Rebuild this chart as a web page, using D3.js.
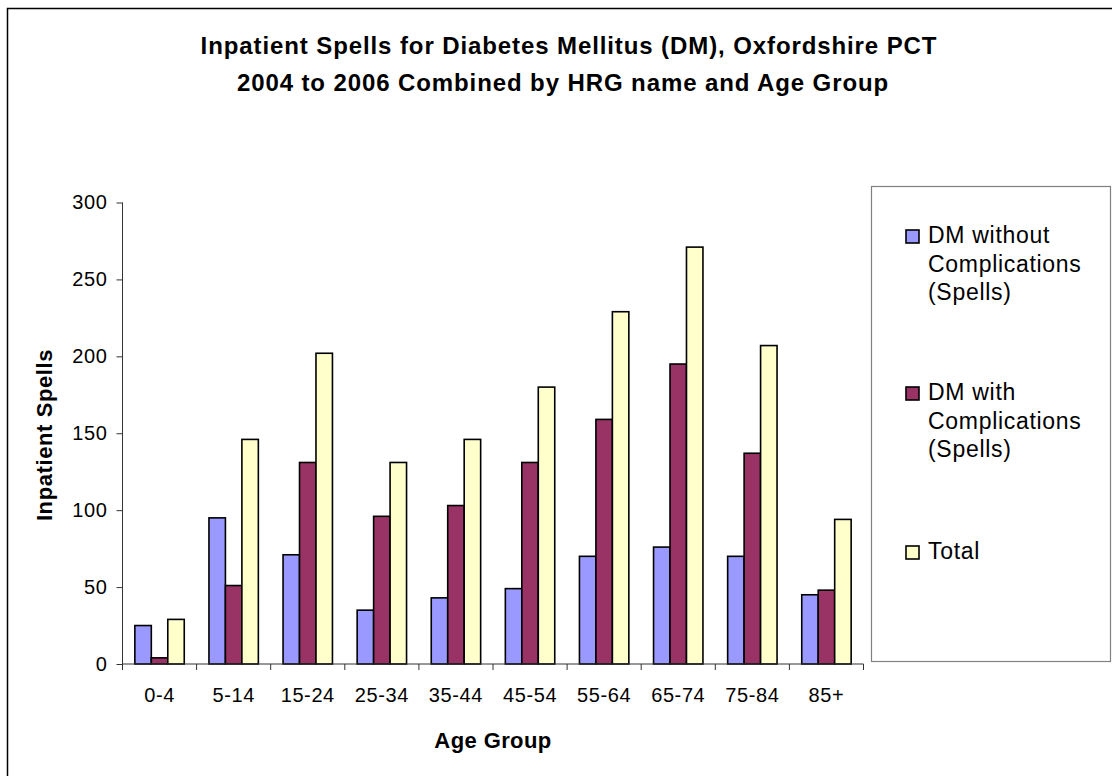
<!DOCTYPE html>
<html lang="en">
<head>
<meta charset="utf-8">
<title>Inpatient Spells for Diabetes Mellitus</title>
<script src="https://d3js.org/d3.v7.min.js"></script>
<style>
  body { margin: 0; background: #fff; }
  svg { display: block; font-family: "Liberation Sans", Arial, sans-serif; }
</style>
</head>
<body>
<script>
  // data
  var categories = ["0-4", "5-14", "15-24", "25-34", "35-44", "45-54", "55-64", "65-74", "75-84", "85+"];
  var seriesNames = ["DM without Complications (Spells)", "DM with Complications (Spells)", "Total"];
  var withoutComp = [25, 95, 71, 35, 43, 49, 70, 76, 70, 45];
  var withComp = [4, 51, 131, 96, 103, 131, 159, 195, 137, 48];
  var total = [29, 146, 202, 131, 146, 180, 229, 271, 207, 94];
  var yTicks = [0, 50, 100, 150, 200, 250, 300];

  var colors = ["#9999ff", "#993366", "#ffffcc"];
  var values = [withoutComp, withComp, total];

  var width = 1112, height = 776;
  var plot = { left: 122.5, right: 863.5, top: 202.5, bottom: 664 };

  var svg = d3.select("body").append("svg")
    .attr("width", width)
    .attr("height", height);

  // outer chart border (runs off right/bottom)
  svg.append("rect")
    .attr("x", 7.5).attr("y", 8.5)
    .attr("width", width).attr("height", height)
    .attr("fill", "none")
    .attr("stroke", "#000")
    .attr("stroke-width", 1.5);

  // title
  var title = svg.append("text")
    .attr("text-anchor", "middle")
    .attr("font-weight", "bold")
    .attr("font-size", 24)
    .attr("letter-spacing", 0.9)
    .attr("fill", "#000");
  title.append("tspan").attr("x", 569).attr("y", 54).text("Inpatient Spells for Diabetes Mellitus (DM), Oxfordshire PCT");
  title.append("tspan").attr("x", 563).attr("y", 91).text("2004 to 2006 Combined by HRG name and Age Group");

  var x0 = d3.scaleBand()
    .domain(categories)
    .range([plot.left, plot.right])
    .padding(0);

  var bw = x0.bandwidth();
  var gw = bw * 3 / 4.5;
  var x1 = d3.scaleBand()
    .domain(d3.range(3))
    .range([(bw - gw) / 2, (bw + gw) / 2])
    .padding(0);

  var y = d3.scaleLinear()
    .domain([0, 300])
    .range([plot.bottom, plot.top]);

  // bars
  var groups = svg.selectAll(".grp")
    .data(categories)
    .enter().append("g")
    .attr("class", "grp")
    .attr("transform", function (d) { return "translate(" + x0(d) + ",0)"; });

  groups.selectAll("rect")
    .data(function (d, i) {
      return values.map(function (v, s) { return { s: s, v: v[i] }; });
    })
    .enter().append("rect")
    .attr("x", function (d) { return x1(d.s); })
    .attr("y", function (d) { return y(d.v); })
    .attr("width", x1.bandwidth())
    .attr("height", function (d) { return y(0) - y(d.v); })
    .attr("fill", function (d) { return colors[d.s]; })
    .attr("stroke", "#000")
    .attr("stroke-width", 1.6);

  // y axis
  var yAxis = svg.append("g")
    .attr("transform", "translate(" + plot.left + ",0)")
    .call(d3.axisLeft(y).tickValues(yTicks).tickSize(6).tickPadding(9));
  yAxis.selectAll("text").attr("font-size", 20).attr("letter-spacing", 0.6).attr("fill", "#000").attr("font-family", null);
  yAxis.selectAll("line, path").attr("stroke", "#333");
  yAxis.select(".domain").attr("d", "M0," + plot.bottom + "V" + plot.top);

  // x axis
  var xAxis = svg.append("g")
    .attr("transform", "translate(0," + plot.bottom + ")")
    .call(d3.axisBottom(x0).tickSize(0).tickPadding(24));
  xAxis.selectAll("text").attr("font-size", 20).attr("letter-spacing", 0.6).attr("fill", "#000").attr("font-family", null);
  xAxis.select(".domain").attr("stroke", "#333").attr("d", "M" + plot.left + ",0H" + plot.right);
  // tick marks between categories
  xAxis.selectAll(".sep")
    .data(categories.concat(["end"]))
    .enter().append("line")
    .attr("class", "sep")
    .attr("x1", function (d, i) { return i < categories.length ? x0(d) : plot.right; })
    .attr("x2", function (d, i) { return i < categories.length ? x0(d) : plot.right; })
    .attr("y1", 0).attr("y2", 6)
    .attr("stroke", "#333");

  // axis titles
  svg.append("text")
    .attr("x", (plot.left + plot.right) / 2)
    .attr("y", 748)
    .attr("text-anchor", "middle")
    .attr("font-weight", "bold")
    .attr("font-size", 22)
    .attr("letter-spacing", 0.4)
    .text("Age Group");

  svg.append("text")
    .attr("transform", "translate(52,435) rotate(-90)")
    .attr("text-anchor", "middle")
    .attr("font-weight", "bold")
    .attr("font-size", 22)
    .attr("letter-spacing", 0.6)
    .text("Inpatient Spells");

  // legend
  var legend = svg.append("g");
  legend.append("rect")
    .attr("x", 871.5).attr("y", 186.5)
    .attr("width", 239).attr("height", 475)
    .attr("fill", "#fff")
    .attr("stroke", "#808080")
    .attr("stroke-width", 1.2);

  var legendLines = [["DM without", "Complications", "(Spells)"], ["DM with", "Complications", "(Spells)"], ["Total"]];
  var legendY = [243, 400, 559];

  legendLines.forEach(function (lines, i) {
    legend.append("rect")
      .attr("x", 906).attr("y", legendY[i] - 13)
      .attr("width", 13).attr("height", 13)
      .attr("fill", colors[i])
      .attr("stroke", "#000")
      .attr("stroke-width", 1.6);
    var t = legend.append("text")
      .attr("font-size", 23)
      .attr("letter-spacing", 0.7)
      .attr("fill", "#000");
    lines.forEach(function (l, j) {
      t.append("tspan").attr("x", 928).attr("y", legendY[i] + j * 28.7).text(l);
    });
  });
</script>
</body>
</html>
